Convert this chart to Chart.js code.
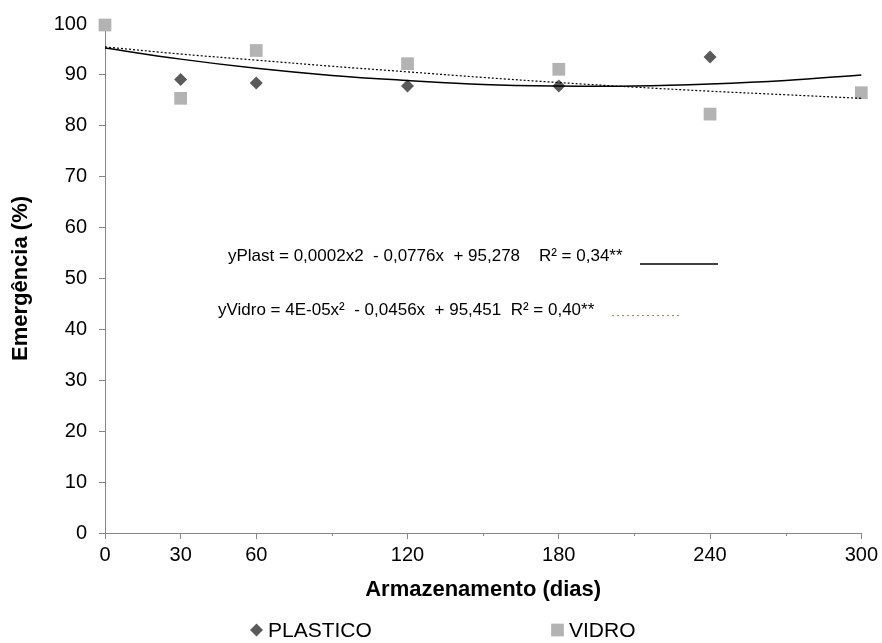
<!DOCTYPE html>
<html>
<head>
<meta charset="utf-8">
<script src="https://cdn.jsdelivr.net/npm/chart.js@4"></script>
<style>
  html, body { margin: 0; padding: 0; background: #fff; }
  #wrap { width: 882px; height: 643px; }
</style>
</head>
<body>
<div id="wrap"><canvas id="chart"></canvas></div>
<script>
// storage days
const diasPlast = [30, 60, 120, 180, 240];
const plastico = [89.1, 88.4, 87.8, 87.8, 93.5];
const diasVidro = [0, 30, 60, 120, 180, 240, 300];
const vidro = [99.8, 85.4, 94.8, 92.2, 91.1, 82.3, 86.5];

// trend curves
const diasTrend = [0, 30, 60, 90, 120, 150, 180, 210, 240, 270, 300];
const trendPlast = [95.3, 93.1, 91.3, 89.9, 88.9, 88.1, 87.8, 87.8, 88.2, 88.9, 90.0];
const trendVidro = [95.5, 94.1, 92.9, 91.7, 90.6, 89.5, 88.5, 87.6, 86.8, 86.1, 85.4];

const xLabels = [0, 30, 60, 120, 180, 240, 300];

const pts = (xs, ys) => xs.map((x, i) => ({ x: x, y: ys[i] }));

const FONT = "'Liberation Sans', Arial, sans-serif";

// equations, legend and minor ticks
const extras = {
    id: 'extras',
    afterDraw(chart) {
        const ctx = chart.ctx;
        const xs = chart.scales.x;
        ctx.save();

        // minor ticks
        ctx.strokeStyle = '#868686';
        ctx.lineWidth = 1;
        [90, 150, 210, 270].forEach(v => {
            const px = Math.round(xs.getPixelForValue(v)) + 0.5;
            ctx.beginPath();
            ctx.moveTo(px, xs.top);
            ctx.lineTo(px, xs.top + 3);
            ctx.stroke();
        });

        // equations
        ctx.fillStyle = '#000';
        ctx.font = '17px ' + FONT;
        ctx.textBaseline = 'middle';
        ctx.fillText('yPlast = 0,0002x2  - 0,0776x  + 95,278    R² = 0,34**', 228, 256);
        ctx.fillText('yVidro = 4E-05x²  - 0,0456x  + 95,451  R² = 0,40**', 218, 310);

        ctx.beginPath();
        ctx.lineWidth = 1.5;
        ctx.strokeStyle = '#000';
        ctx.moveTo(640, 264);
        ctx.lineTo(718, 264);
        ctx.stroke();

        ctx.beginPath();
        ctx.lineWidth = 1;
        ctx.strokeStyle = '#a08a60';
        ctx.setLineDash([2, 3]);
        ctx.moveTo(612, 315.5);
        ctx.lineTo(681, 315.5);
        ctx.stroke();
        ctx.setLineDash([]);

        // legend
        ctx.font = '21px ' + FONT;
        const legend = [
            { ds: 0, x: 256.5, tx: 268, text: 'PLASTICO' },
            { ds: 1, x: 557.5, tx: 569, text: 'VIDRO' }
        ];
        legend.forEach(l => {
            const d = chart.data.datasets[l.ds];
            ctx.fillStyle = d.backgroundColor;
            ctx.strokeStyle = d.backgroundColor;
            Chart.helpers.drawPoint(ctx, {
                pointStyle: d.pointStyle,
                radius: l.ds === 0 ? 6.5 : 9,
                borderWidth: 0
            }, l.x, 630);
            ctx.fillStyle = '#000';
            ctx.fillText(l.text, l.tx, 631);
        });
        ctx.restore();
    }
};

new Chart(document.getElementById('chart'), {
    type: 'scatter',
    data: {
        datasets: [
            {
                label: 'PLASTICO',
                data: pts(diasPlast, plastico),
                pointStyle: 'rectRot',
                pointRadius: 6.5,
                backgroundColor: '#5a5a5a',
                borderColor: '#5a5a5a',
                borderWidth: 0,
                clip: false,
                order: 3
            },
            {
                label: 'VIDRO',
                data: pts(diasVidro, vidro),
                pointStyle: 'rect',
                pointRadius: 9,
                backgroundColor: '#b3b3b3',
                borderColor: '#b3b3b3',
                borderWidth: 0,
                clip: false,
                order: 2
            },
            {
                label: 'trend plast',
                type: 'line',
                data: pts(diasTrend, trendPlast),
                showLine: true,
                borderColor: '#000',
                borderWidth: 1.5,
                pointRadius: 0,
                tension: 0.4,
                clip: false,
                order: 1
            },
            {
                label: 'trend vidro',
                type: 'line',
                data: pts(diasTrend, trendVidro),
                showLine: true,
                borderColor: '#000',
                borderWidth: 1.2,
                borderDash: [2, 2],
                pointRadius: 0,
                tension: 0.4,
                clip: false,
                order: 0
            }
        ]
    },
    options: {
        responsive: true,
        maintainAspectRatio: false,
        animation: false,
        events: [],
        layout: { padding: { top: 21, right: 20, bottom: 40, left: 0 } },
        plugins: {
            legend: { display: false },
            tooltip: { enabled: false }
        },
        scales: {
            x: {
                type: 'linear',
                min: 0,
                max: 300,
                afterFit: s => { s.height = 70; },
                afterBuildTicks: s => {
                    s.ticks = [0, 30, 60, 90, 120, 150, 180, 210, 240, 270, 300].map(v => ({ value: v }));
                },
                ticks: {
                    autoSkip: false,
                    maxRotation: 0,
                    padding: 4,
                    color: '#000',
                    font: { family: FONT, size: 20 },
                    callback: v => xLabels.includes(v) ? String(v) : ''
                },
                grid: {
                    drawOnChartArea: false,
                    tickLength: 6,
                    tickColor: c => (c.tick && xLabels.includes(c.tick.value)) ? '#868686' : 'rgba(0,0,0,0)'
                },
                border: { color: '#868686', width: 1 },
                title: {
                    display: true,
                    text: 'Armazenamento (dias)',
                    color: '#000',
                    font: { family: FONT, size: 22, weight: 'bold' },
                    padding: { top: 0, bottom: 0 }
                }
            },
            y: {
                min: 0,
                max: 100,
                afterFit: s => { s.width = 105; },
                ticks: {
                    stepSize: 10,
                    padding: 12,
                    color: '#000',
                    font: { family: FONT, size: 20 }
                },
                grid: {
                    drawOnChartArea: false,
                    tickLength: 6,
                    tickColor: '#868686'
                },
                border: { color: '#868686', width: 1 },
                title: {
                    display: true,
                    text: 'Emergência (%)',
                    color: '#000',
                    font: { family: FONT, size: 22, weight: 'bold' },
                    padding: { top: 8, bottom: 0 }
                }
            }
        }
    },
    plugins: [extras]
});
</script>
</body>
</html>
